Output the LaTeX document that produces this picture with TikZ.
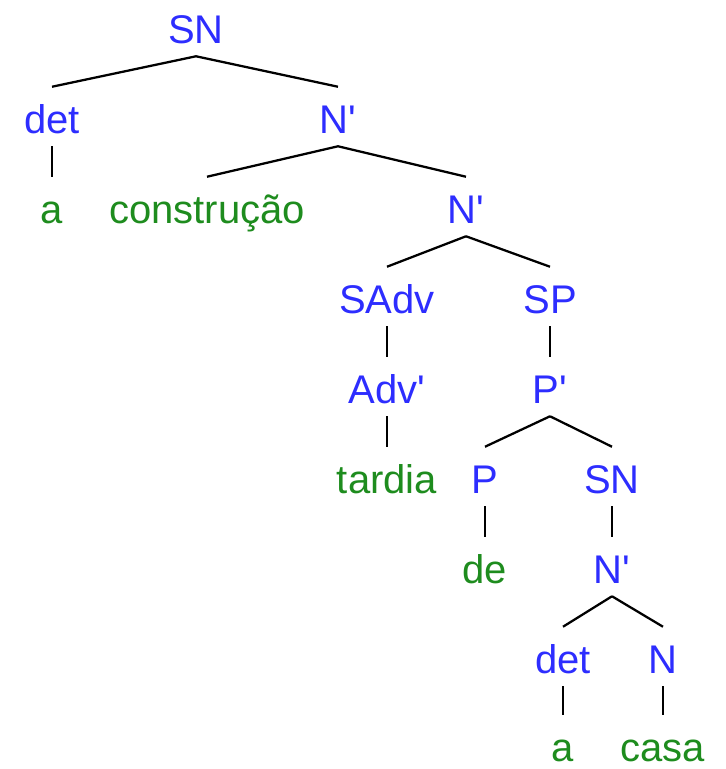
\documentclass[tikz,border=0pt]{standalone}
\usepackage{fontspec}
\newfontfamily\treefont{Liberation Sans}
\definecolor{catblue}{RGB}{45,45,255}
\definecolor{wordgreen}{RGB}{30,140,30}
\begin{document}
\begin{tikzpicture}[x=0.75pt, y=-0.75pt,
    cat/.style={anchor=base, inner sep=0pt, text height=34.5pt, text depth=9.75pt, text=catblue, font=\treefont\fontsize{30}{36}\selectfont},
    word/.style={cat, text=wordgreen},
    branch/.style={line width=1.7pt}]
    \useasboundingbox (0,0) rectangle (726,769);
    % Top level
    \node[cat] (sn) at (196,43) {SN};
    \node[cat] (det) at (52,133) {det};
    \node[cat] (nbar) at (338,133) {N\textquotesingle};
    \node[word] (a) at (52,223) {a};
    \node[word] (constr) at (207,223) {construção};
    \node[cat] (nbarb) at (466,223) {N\textquotesingle};
    % Adverb and preposition phrases
    \node[cat] (sadv) at (387,313) {SAdv};
    \node[cat] (sp) at (550,313) {SP};
    \node[cat] (advbar) at (387,403) {Adv\textquotesingle};
    \node[cat] (pbar) at (550,403) {P\textquotesingle};
    \node[word] (tardia) at (387,493) {tardia};
    \node[cat] (p) at (485,493) {P};
    \node[cat] (snb) at (612,493) {SN};
    \node[word] (de) at (485,583) {de};
    \node[cat] (nbarc) at (612,583) {N\textquotesingle};
    % Lowest noun phrase
    \node[cat] (detb) at (563,673) {det};
    \node[cat] (n) at (663,673) {N};
    \node[word] (ab) at (563,761) {a};
    \node[word] (casa) at (663,761) {casa};
    % Branches
    \draw[branch] (sn.south) -- (det.north);
    \draw[branch] (sn.south) -- (nbar.north);
    \draw[branch] (det.south) -- (a.north);
    \draw[branch] (nbar.south) -- (constr.north);
    \draw[branch] (nbar.south) -- (nbarb.north);
    \draw[branch] (nbarb.south) -- (sadv.north);
    \draw[branch] (nbarb.south) -- (sp.north);
    \draw[branch] (sadv.south) -- (advbar.north);
    \draw[branch] (advbar.south) -- (tardia.north);
    \draw[branch] (sp.south) -- (pbar.north);
    \draw[branch] (pbar.south) -- (p.north);
    \draw[branch] (pbar.south) -- (snb.north);
    \draw[branch] (p.south) -- (de.north);
    \draw[branch] (snb.south) -- (nbarc.north);
    \draw[branch] (nbarc.south) -- (detb.north);
    \draw[branch] (nbarc.south) -- (n.north);
    \draw[branch] (detb.south) -- (ab.north);
    \draw[branch] (n.south) -- (casa.north);
\end{tikzpicture}
\end{document}
